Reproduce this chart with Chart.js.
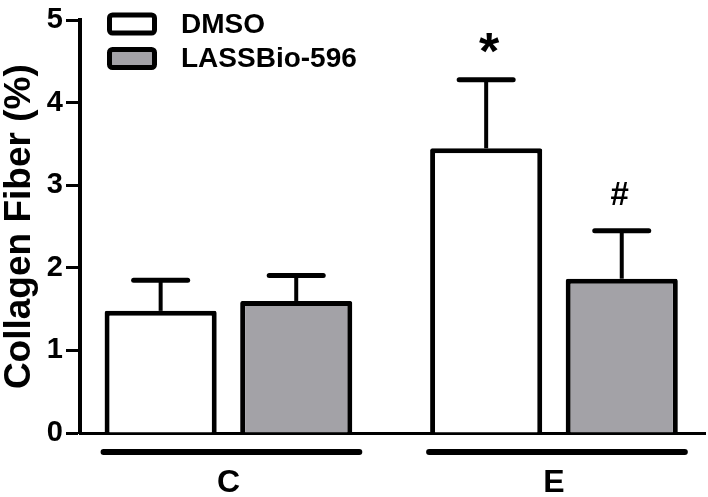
<!DOCTYPE html>
<html>
<head>
<meta charset="utf-8">
<script src="https://cdn.jsdelivr.net/npm/chart.js@4"></script>
<style>
	html, body { margin: 0; padding: 0; background: #fff; }
	#wrap { width: 708px; height: 497px; }
</style>
</head>
<body>
<div id="wrap"><canvas id="fiberChart" width="708" height="497"></canvas></div>
<script>
"use strict";

const categories = ['C', 'E'];
const seriesNames = ['DMSO', 'LASSBio-596'];
const dmsoMean = [1.48, 3.45];
const dmsoSem = [0.37, 0.83];
const lassMean = [1.60, 1.87];
const lassSem = [0.31, 0.58];
const dmsoMarks = ['', '*'];
const lassMarks = ['', '#'];
const yTicks = [0, 1, 2, 3, 4, 5];

const FONT = '"Liberation Sans", Arial, Helvetica, sans-serif';
const GRAY = '#a3a2a7';

const errors = [dmsoSem, lassSem];
const marks = [dmsoMarks, lassMarks];

// error bars (upper only), significance marks, group underlines, legend
const extras = {
	id: 'extras',
	afterDatasetsDraw(chart) {
		const ctx = chart.ctx;
		const yScale = chart.scales.y;
		ctx.save();
		ctx.strokeStyle = '#000';
		ctx.fillStyle = '#000';
		chart.data.datasets.forEach((ds, d) => {
			const meta = chart.getDatasetMeta(d);
			meta.data.forEach((bar, i) => {
				const mean = ds.data[i].y;
				const capY = yScale.getPixelForValue(mean + errors[d][i]);
				ctx.lineCap = 'butt';
				ctx.lineWidth = 4;
				ctx.beginPath();
				ctx.moveTo(bar.x, bar.y);
				ctx.lineTo(bar.x, capY);
				ctx.stroke();
				ctx.lineCap = 'round';
				ctx.lineWidth = 5;
				ctx.beginPath();
				ctx.moveTo(bar.x - 27, capY);
				ctx.lineTo(bar.x + 27, capY);
				ctx.stroke();

				const m = marks[d][i];
				if (m) {
					ctx.font = (m === '*' ? 'bold 52px ' : 'bold 33px ') + FONT;
					ctx.textAlign = 'center';
					ctx.textBaseline = 'alphabetic';
					const tm = ctx.measureText(m);
					const cy = capY - 37;
					const base = cy + (tm.actualBoundingBoxAscent - tm.actualBoundingBoxDescent) / 2;
					ctx.fillText(m, bar.x + (m === '*' ? 3 : -2), base);
				}
			});
		});

		// group underlines below the x axis
		const y = chart.chartArea.bottom + 19;
		categories.forEach((c, i) => {
			let left = Infinity, right = -Infinity;
			chart.data.datasets.forEach((ds, d) => {
				const bar = chart.getDatasetMeta(d).data[i];
				left = Math.min(left, bar.x - bar.width / 2);
				right = Math.max(right, bar.x + bar.width / 2);
			});
			ctx.lineCap = 'round';
			ctx.lineWidth = 6;
			ctx.beginPath();
			ctx.moveTo(left - 1, y);
			ctx.lineTo(right + 7, y);
			ctx.stroke();
		});

		// legend
		ctx.font = 'bold 28px ' + FONT;
		ctx.textAlign = 'left';
		ctx.textBaseline = 'middle';
		chart.data.datasets.forEach((ds, d) => {
			const top = 15 + d * 34.5;
			ctx.lineWidth = 5;
			ctx.lineJoin = 'round';
			ctx.beginPath();
			ctx.roundRect(109.5, top, 45, 18, 3);
			ctx.fillStyle = ds.backgroundColor;
			ctx.fill();
			ctx.stroke();
			ctx.fillStyle = '#000';
			ctx.fillText(ds.label, 181, top + 10);
		});
		ctx.restore();
	}
};

const barStyle = {
	borderColor: '#000',
	borderWidth: 5,
	borderRadius: 2,
	borderSkipped: 'start',
	categoryPercentage: 0.833,
	barPercentage: 0.827
};

const fiberChart = new Chart(document.getElementById('fiberChart').getContext('2d'), {
	type: 'bar',
	data: {
		datasets: [
			Object.assign({
				label: seriesNames[0],
				data: dmsoMean.map((v, i) => ({ x: i, y: v })),
				backgroundColor: '#ffffff'
			}, barStyle),
			Object.assign({
				label: seriesNames[1],
				data: lassMean.map((v, i) => ({ x: i, y: v })),
				backgroundColor: GRAY
			}, barStyle)
		]
	},
	options: {
		responsive: false,
		animation: false,
		layout: { padding: { top: 16, right: 3, left: 0, bottom: 0 } },
		plugins: {
			legend: { display: false },
			tooltip: { enabled: false }
		},
		scales: {
			x: {
				type: 'linear',
				bounds: 'data',
				offset: false,
				min: -0.456,
				max: 1.464,
				afterBuildTicks: s => { s.ticks = categories.map((c, i) => ({ value: i })); },
				afterFit: s => { s.height = 64; },
				grid: { display: false, drawTicks: false, offset: false },
				border: { display: true, color: '#000', width: 3 },
				ticks: {
					padding: 31,
					color: '#000',
					font: { family: FONT, size: 32, weight: 'bold' },
					callback: v => categories[v]
				}
			},
			y: {
				min: 0,
				max: 5,
				afterBuildTicks: s => { s.ticks = yTicks.map(v => ({ value: v })); },
				afterFit: s => { s.width = 80; },
				grid: {
					drawOnChartArea: false,
					drawTicks: true,
					tickLength: 14,
					tickWidth: 3,
					tickColor: '#000',
					color: '#000'
				},
				border: { display: true, color: '#000', width: 4 },
				ticks: {
					padding: 3,
					color: '#000',
					font: { family: FONT, size: 29, weight: 'bold' }
				},
				title: {
					display: true,
					text: 'Collagen Fiber (%)',
					color: '#000',
					padding: { top: 0, bottom: 0 },
					font: { family: FONT, size: 37, weight: 'bold', lineHeight: 1.05 }
				}
			}
		}
	},
	plugins: [extras]
});
</script>
</body>
</html>
